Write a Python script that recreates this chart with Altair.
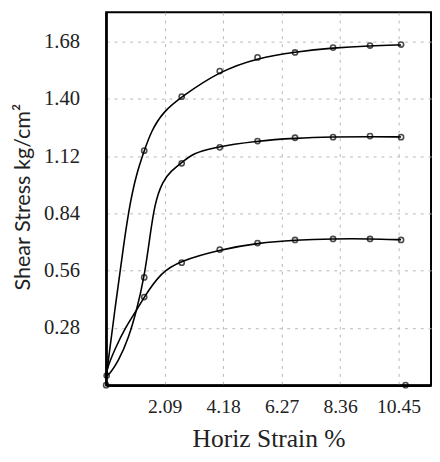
import altair as alt
import pandas as pd

# Marker readings (Horiz Strain %, Shear Stress kg/cm2)
marker_x = [1.36, 2.70, 4.06, 5.41, 6.75, 8.11, 9.43, 10.54]
top_y = [1.147, 1.411, 1.536, 1.603, 1.627, 1.651, 1.661, 1.666]
mid_y = [0.527, 1.085, 1.163, 1.194, 1.210, 1.213, 1.218, 1.213]
low_y = [0.431, 0.599, 0.663, 0.695, 0.710, 0.715, 0.715, 0.710]
extra_x = [0.02, 0.0, 10.7]
extra_y = [0.047, 0.0, 0.0]

# Fitted curves
top_cx = [0.01, 0.33, 0.65, 0.85, 1.08, 1.36, 1.60, 2.02, 2.70, 4.06, 5.41, 6.75, 8.11, 9.43, 10.54]
top_cy = [0.048, 0.39, 0.711, 0.888, 1.032, 1.146, 1.239, 1.335, 1.411, 1.536, 1.600, 1.630, 1.650, 1.660, 1.664]
mid_cx = [0.01, 0.09, 0.45, 0.80, 1.09, 1.36, 1.55, 1.73, 2.02, 2.32, 2.67, 3.13, 3.72, 5.41, 6.75, 8.11, 9.43, 10.54]
mid_cy = [0.048, 0.048, 0.119, 0.23, 0.366, 0.527, 0.711, 0.888, 0.999, 1.047, 1.086, 1.134, 1.160, 1.195, 1.208, 1.214, 1.216, 1.214]
low_cx = [0.01, 0.04, 0.33, 0.67, 1.09, 1.33, 1.96, 2.61, 4.06, 5.41, 6.75, 8.11, 9.43, 10.54]
low_cy = [0.048, 0.086, 0.182, 0.278, 0.366, 0.426, 0.551, 0.606, 0.663, 0.695, 0.710, 0.716, 0.716, 0.711]

x_ticks = [2.09, 4.18, 6.27, 8.36, 10.45]
y_ticks = [0.28, 0.56, 0.84, 1.12, 1.40, 1.68]

curves = pd.concat([
    pd.DataFrame({"x": top_cx, "y": top_cy, "s": "top"}),
    pd.DataFrame({"x": mid_cx, "y": mid_cy, "s": "mid"}),
    pd.DataFrame({"x": low_cx, "y": low_cy, "s": "low"}),
])
markers = pd.concat([
    pd.DataFrame({"x": marker_x, "y": top_y}),
    pd.DataFrame({"x": marker_x, "y": mid_y}),
    pd.DataFrame({"x": marker_x, "y": low_y}),
    pd.DataFrame({"x": extra_x, "y": extra_y}),
])

xs = alt.Scale(domain=[0, 11.61], nice=False, zero=False)
ys = alt.Scale(domain=[0, 1.824], nice=False, zero=False)

xenc = alt.X("x:Q", scale=xs, axis=alt.Axis(
    values=x_ticks, format=".2f", title="Horiz Strain %",
    labelPadding=12, titlePadding=10, labelFontSize=20, titleFontSize=26,
    titleFont="Liberation Serif"))
yenc = alt.Y("y:Q", scale=ys, axis=alt.Axis(
    values=y_ticks, format=".2f", title="Shear Stress kg/cm²",
    labelPadding=27, labelFontSize=21, titleFontSize=22, titleFont="Lato",
    titleX=-85, titleY=188, titleAlign="center", titleBaseline="middle", titleAngle=-90))

lines = alt.Chart(curves).mark_line(
    color="black", strokeWidth=1.6, interpolate="basis"
).encode(x=xenc, y=yenc, detail="s:N")

pts = alt.Chart(markers).mark_point(
    shape="circle", filled=False, color="black", size=28, strokeWidth=1.6
).encode(x="x:Q", y="y:Q")

chart = (lines + pts).properties(
    width=331, height=380,
    autosize=alt.AutoSizeParams(type="none"),
    padding={"left": 100, "top": 0, "right": 1, "bottom": 74},
).configure_view(
    stroke="black", strokeWidth=2
).configure_axis(
    labelFont="Liberation Serif",
    labelColor="#222", titleColor="#222", titleFontWeight="normal",
    grid=True, gridColor="#b8b8b8", gridDash=[3, 5], gridWidth=1,
    ticks=False, domainColor="black", domainWidth=2.5,
)

chart.save("out.html", embed_options={"renderer": "svg", "actions": False})
